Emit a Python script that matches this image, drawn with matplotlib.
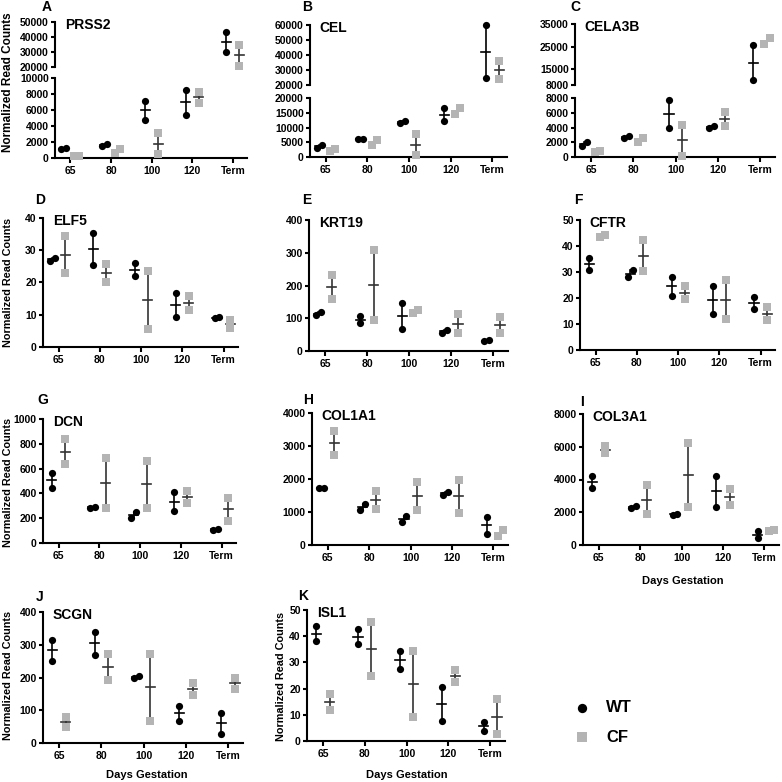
import matplotlib

matplotlib.use('Agg')
import matplotlib.pyplot as plt

plt.rcParams['font.family'] = ['Liberation Sans', 'DejaVu Sans']
plt.rcParams['font.weight'] = 'bold'

days = ['65', '80', '100', '120', 'Term']

# two animals per group
prss2_wt = [[1100, 1250], [1550, 1750], [4800, 7100], [5400, 8500], [30000, 43500]]
prss2_cf = [[200, 300], [600, 1150], [450, 3100], [6900, 8300], [21000, 35000]]
cel_wt = [[3200, 4100], [6100, 6200], [11500, 12300], [12300, 16500], [24500, 60000]]
cel_cf = [[2200, 2700], [4000, 5800], [600, 7800], [14500, 16500], [24000, 36000]]
cela3b_wt = [[1500, 2000], [2600, 2850], [3900, 7700], [4000, 4250], [10000, 25500]]
cela3b_cf = [[650, 800], [2050, 2550], [150, 4400], [4200, 6100], [26200, 28800]]
elf5_wt = [[26.8, 27.6], [25.5, 35.2], [22.0, 26.0], [9.2, 16.8], [8.9, 9.3]]
elf5_cf = [[23.0, 34.3], [20.0, 25.8], [5.5, 23.5], [11.4, 15.8], [5.8, 8.5]]
krt19_wt = [[110, 118], [84, 106], [66, 147], [55, 65], [30, 33]]
krt19_cf = [[158, 233], [95, 307], [115, 125], [55, 112], [55, 104]]
cftr_wt = [[30.8, 35.2], [28.2, 30.6], [20.8, 28.2], [13.8, 24.6], [15.6, 20.5]]
cftr_cf = [[43.6, 44.2], [30.2, 42.2], [19.5, 24.5], [11.8, 27.0], [11.5, 16.5]]
dcn_wt = [[445, 565], [285, 292], [200, 250], [255, 408], [108, 110]]
dcn_cf = [[635, 840], [282, 688], [282, 665], [320, 420], [180, 365]]
col1a1_wt = [[1720, 1730], [1050, 1250], [700, 880], [1520, 1620], [330, 860]]
col1a1_cf = [[2720, 3450], [1100, 1640], [1050, 1920], [980, 1980], [260, 450]]
col3a1_wt = [[3500, 4200], [2250, 2400], [1850, 1880], [2350, 4200], [400, 870]]
col3a1_cf = [[5600, 6050], [1900, 3650], [2350, 6250], [2450, 3400], [880, 920]]
scgn_wt = [[250, 315], [270, 340], [198, 206], [68, 114], [28, 92]]
scgn_cf = [[50, 80], [192, 272], [67, 272], [148, 183], [166, 200]]
isl1_wt = [[38, 44], [37, 42.6], [27.5, 34.2], [7.8, 20.8], [4.0, 7.4]]
isl1_cf = [[12, 17.8], [24.8, 45.3], [9.3, 34.4], [22.4, 27.2], [2.5, 16.2]]

W = H = 782
fig = plt.figure(figsize=(W / 100, H / 100), dpi=100)
fig.patch.set_facecolor('white')

WT_COLOR = 'black'
CF_COLOR = '#b4b4b4'
CF_BAR = '#333333'
XLIM = (-0.38, 4.35)


def add_axes(box):
    left, top, right, bottom = box
    return fig.add_axes([left / W, 1 - bottom / H, (right - left) / W, (bottom - top) / H])


def style_axes(ax, ylim, yticks, show_x=True):
    ax.set_xlim(*XLIM)
    ax.set_ylim(*ylim)
    ax.set_yticks(yticks)
    ax.set_yticklabels([str(t) for t in yticks])
    for side in ['top', 'right']:
        ax.spines[side].set_visible(False)
    ax.spines['left'].set_linewidth(1.5)
    ax.spines['bottom'].set_linewidth(1.5)
    ax.tick_params(axis='y', direction='out', length=3, width=1.5, pad=1.5, labelsize=7.5)
    if show_x:
        ax.set_xticks(range(len(days)))
        ax.set_xticklabels(days)
        ax.tick_params(axis='x', direction='out', length=3.5, width=1.5, pad=2, labelsize=7.5)
    else:
        ax.spines['bottom'].set_visible(False)
        ax.set_xticks([])
    ax.patch.set_alpha(0)


def draw_series(ax_lo, ax_hi, groups, dx, marker, color, barcolor):
    for i, vals in enumerate(groups):
        ax = ax_lo
        if ax_hi is not None and min(vals) > ax_lo.get_ylim()[1]:
            ax = ax_hi
        lo, hi = ax.get_ylim()
        px_per = ax.get_position().height * H / (hi - lo)
        v = sorted(vals)
        mean = sum(v) / len(v)
        x0 = i + dx
        # points that would overlap are spread sideways
        if (v[1] - v[0]) * px_per < 7:
            xs = [x0 - 0.06, x0 + 0.06]
        else:
            xs = [x0, x0]
        ax.plot([x0, x0], v, color=barcolor, lw=1.2, zorder=2, clip_on=False)
        ax.plot([x0 - 0.11, x0 + 0.11], [mean, mean], color=barcolor, lw=1.2,
                zorder=2, clip_on=False)
        ax.scatter(xs, v, marker=marker, s=27, color=color, linewidths=0,
                   zorder=3, clip_on=False)


def gene_label(ax, name):
    ax.annotate(name, xy=(0, 1), xycoords='axes fraction', xytext=(7, -2),
                textcoords='offset points', ha='left', va='center',
                fontsize=10, fontweight='bold')


def panel(box, ylim, yticks, wt, cf, name, upper=None):
    ax = add_axes(box)
    style_axes(ax, ylim, yticks)
    ax_hi = None
    if upper is not None:
        ubox, uylim, uyticks = upper
        ax_hi = add_axes(ubox)
        style_axes(ax_hi, uylim, uyticks, show_x=False)
    draw_series(ax, ax_hi, wt, -0.16, 'o', WT_COLOR, 'black')
    draw_series(ax, ax_hi, cf, 0.16, 's', CF_COLOR, CF_BAR)
    gene_label(ax_hi if ax_hi is not None else ax, name)
    return ax


panel((55, 78, 247, 158), (0, 10000), list(range(0, 10001, 2000)), prss2_wt, prss2_cf,
      'PRSS2', upper=((55, 22, 247, 67), (20000, 50000), list(range(20000, 50001, 10000))))
panel((310, 98, 507, 157), (0, 20000), list(range(0, 20001, 5000)), cel_wt, cel_cf,
      'CEL', upper=((310, 25, 507, 85), (20000, 60000), list(range(20000, 60001, 10000))))
panel((575, 98, 775, 157), (0, 8000), list(range(0, 8001, 2000)), cela3b_wt, cela3b_cf,
      'CELA3B', upper=((575, 24, 775, 85), (8000, 35000), [8000, 15000, 25000, 35000]))
panel((43, 218, 238, 347), (0, 40), list(range(0, 41, 10)), elf5_wt, elf5_cf, 'ELF5')
panel((309, 220, 508, 351), (0, 400), list(range(0, 401, 100)), krt19_wt, krt19_cf, 'KRT19')
panel((580, 220, 775, 350), (0, 50), list(range(0, 51, 10)), cftr_wt, cftr_cf, 'CFTR')
panel((43, 419, 236, 543), (0, 1000), list(range(0, 1001, 200)), dcn_wt, dcn_cf, 'DCN')
panel((312, 413, 508, 545), (0, 4000), list(range(0, 4001, 1000)), col1a1_wt, col1a1_cf, 'COL1A1')
panel((583, 414, 779, 545), (0, 8000), list(range(0, 8001, 2000)), col3a1_wt, col3a1_cf, 'COL3A1')
panel((43, 612, 243, 743), (0, 400), list(range(0, 401, 100)), scgn_wt, scgn_cf, 'SCGN')
panel((307, 610, 505, 741), (0, 50), list(range(0, 51, 10)), isl1_wt, isl1_cf, 'ISL1')


def ftext(x, y, s, **kw):
    fig.text(x / W, 1 - y / H, s, fontweight='bold', **kw)


# panel letters
for letter, x, y in [('A', 47, 7), ('B', 307, 7), ('C', 575, 7), ('D', 40, 200),
                     ('E', 307, 200), ('F', 578, 200), ('G', 43, 400), ('H', 308, 400),
                     ('I', 582, 402), ('J', 40, 597), ('K', 303, 596)]:
    ftext(x, y, letter, fontsize=10, ha='center', va='center')

# y labels
for x, y, size in [(8, 82, 8.5), (8, 282, 7.8), (8, 482, 7.8), (8, 675, 7.8), (281, 676, 7.8)]:
    ftext(x, y, 'Normalized Read Counts', fontsize=size, rotation=90, ha='center', va='center')

# x labels
for x, y in [(147, 775), (407, 775), (683, 581)]:
    ftext(x, y, 'Days Gestation', fontsize=8, ha='center', va='center')

# legend
leg_ax = fig.add_axes([0, 0, 1, 1])
leg_ax.set_xlim(0, W)
leg_ax.set_ylim(H, 0)
leg_ax.axis('off')
leg_ax.scatter([582], [708], marker='o', s=45, color=WT_COLOR, linewidths=0)
leg_ax.scatter([582], [737], marker='s', s=45, color=CF_COLOR, linewidths=0)
ftext(606, 708, 'WT', fontsize=12, ha='left', va='center')
ftext(606, 737, 'CF', fontsize=12, ha='left', va='center')

fig.savefig('out.png', dpi=100)
